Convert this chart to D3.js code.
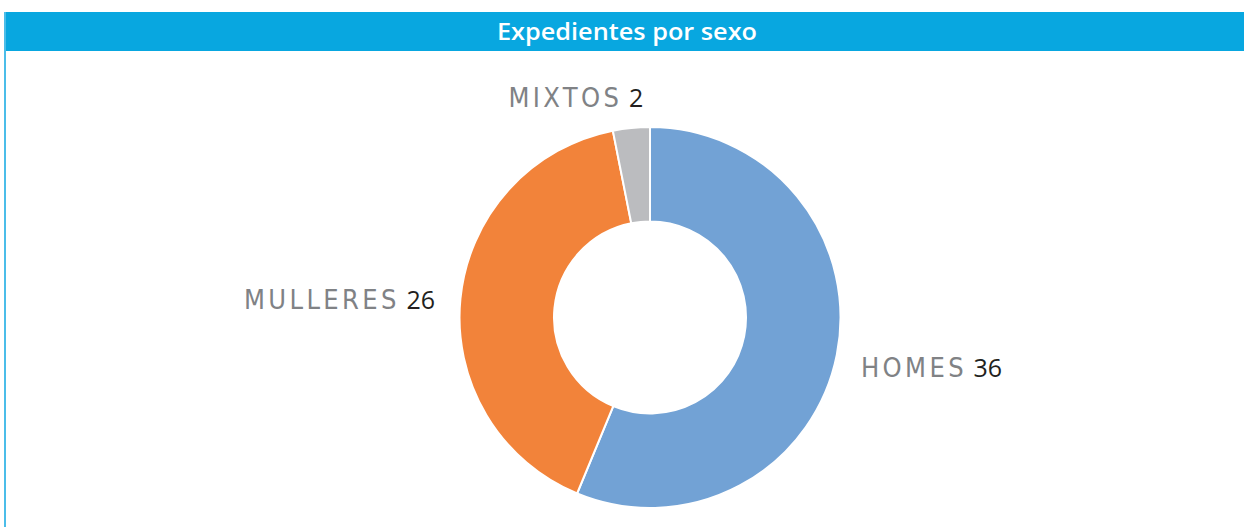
<!DOCTYPE html>
<html>
<head>
    <meta charset="utf-8">
    <title>Expedientes por sexo</title>
    <script src="https://cdn.jsdelivr.net/npm/d3@7"></script>
    <style>
        body {
            margin: 0;
            background: #fff;
            font-family: "Open Sans", "DejaVu Sans", sans-serif;
        }
        .label-name {
            fill: #808285;
            font-family: "Liberation Sans Narrow", "DejaVu Sans Condensed", sans-serif;
            font-size: 27px;
            letter-spacing: 3.4px;
        }
        .label-value {
            fill: #231f20;
            font-size: 25px;
            letter-spacing: 0px;
        }
    </style>
</head>
<body>
<div id="chart"></div>

<script>
    var title = "Expedientes por sexo";
    var categories = ["HOMES", "MULLERES", "MIXTOS"];
    var values = [36, 26, 2];
    var colors = ["#72a2d5", "#f2833a", "#bbbcbf"];

    var width = 1244,
        height = 527;

    var svg = d3.select("#chart")
        .append("svg")
        .attr("width", width)
        .attr("height", height);

    // header band + left rule
    svg.append("rect")
        .attr("x", 5)
        .attr("y", 12)
        .attr("width", width - 5)
        .attr("height", 39)
        .attr("fill", "#08a7e0");

    svg.append("rect")
        .attr("x", 4)
        .attr("y", 12)
        .attr("width", 2)
        .attr("height", height - 12)
        .attr("fill", "#4bbde9");

    svg.append("text")
        .attr("x", 627)
        .attr("y", 40)
        .attr("text-anchor", "middle")
        .attr("fill", "#fff")
        .attr("font-size", 23)
        .attr("font-weight", 600)
        .attr("textLength", 260)
        .attr("lengthAdjust", "spacingAndGlyphs")
        .text(title);

    var cx = 650, cy = 317.5;
    var outerR = 190.5, innerR = 96;

    var pie = d3.pie()
        .sort(null)
        .value(function (d) { return d.value; });

    var data = categories.map(function (c, i) {
        return {name: c, value: values[i], color: colors[i]};
    });

    var arcs = pie(data);

    var arc = d3.arc()
        .innerRadius(innerR)
        .outerRadius(outerR);

    var g = svg.append("g")
        .attr("transform", "translate(" + cx + "," + cy + ")");

    g.selectAll("path")
        .data(arcs)
        .join("path")
        .attr("d", arc)
        .attr("fill", function (d) { return d.data.color; })
        .attr("stroke", "#fff")
        .attr("stroke-width", 2);

    // labels placed outside the ring, nudged a bit like the original
    var labelArc = d3.arc().innerRadius(212).outerRadius(212);
    var nudge = {
        HOMES: {dx: 3, dy: 18, anchor: "start"},
        MULLERES: {dx: -4, dy: 12, anchor: "end"},
        MIXTOS: {dx: 14, dy: 0, anchor: "end"}
    };

    var labels = g.selectAll("text.label")
        .data(arcs)
        .join("text")
        .attr("class", "label")
        .attr("text-anchor", function (d) { return nudge[d.data.name].anchor; })
        .attr("x", function (d) { return labelArc.centroid(d)[0] + nudge[d.data.name].dx; })
        .attr("y", function (d) { return labelArc.centroid(d)[1] + nudge[d.data.name].dy; });

    labels.append("tspan")
        .attr("class", "label-name")
        .text(function (d) { return d.data.name; });

    labels.append("tspan")
        .attr("class", "label-value")
        .text(function (d) { return " " + d.data.value; });
</script>
</body>
</html>
